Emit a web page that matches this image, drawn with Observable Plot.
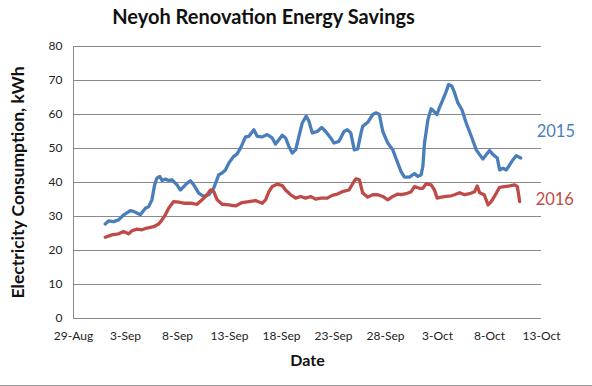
<!DOCTYPE html>
<html>
<head>
<meta charset="utf-8">
<script src="https://cdn.jsdelivr.net/npm/d3@7"></script>
<script src="https://cdn.jsdelivr.net/npm/@observablehq/plot@0.6"></script>
<style>
  html, body { margin: 0; padding: 0; background: #fff; }
  #wrap { position: relative; width: 592px; height: 386px; overflow: hidden; }
  #wrap svg { display: block; font-family: Lato, "Open Sans", sans-serif; }
  #border { position: absolute; left: 0; top: 385px; width: 592px; height: 1px; background: #9a9a9a; }
</style>
</head>
<body>
<div id="wrap"><div id="border"></div></div>
<script>
// Days after 29-Aug and daily electricity consumption (kWh)
const days2015 = [3.05,3.37,3.85,4.34,4.82,5.46,5.78,6.43,6.91,7.23,7.54,7.80,8.02,8.29,8.51,8.83,9.15,9.47,9.95,10.28,10.60,10.92,11.24,11.56,12.04,12.52,13.01,13.49,13.97,14.29,14.61,14.93,15.41,15.73,16.06,16.54,16.86,17.34,17.66,18.14,18.62,19.10,19.43,19.75,20.07,20.39,20.71,21.03,21.36,21.68,21.99,22.38,22.64,22.96,23.44,23.86,24.25,24.73,25.05,25.53,26.01,26.33,26.66,27.00,27.33,27.65,27.81,28.29,28.78,29.09,29.41,29.74,30.22,30.70,31.18,31.50,31.82,32.30,32.78,33.11,33.43,33.59,33.75,34.08,34.39,34.65,34.94,35.19,35.52,35.84,36.06,36.39,36.64,36.96,37.35,37.76,38.25,38.73,39.05,39.37,39.69,40.01,40.34,40.75,40.97,41.30,41.62,41.94,42.26,42.58,43.00];
const kwh2015 = [27.8,28.7,28.5,29.0,30.5,31.7,31.5,30.5,32.4,32.9,34.9,39.3,41.3,41.8,40.6,41.0,40.6,40.8,39.3,37.8,38.8,39.8,40.5,39.3,36.9,35.9,36.4,38.4,42.3,42.8,43.7,45.7,47.7,48.4,50.1,53.4,53.6,55.5,53.6,53.4,54.1,53.1,51.3,52.6,53.9,53.1,50.6,48.7,49.6,53.6,57.5,59.5,58.0,54.6,55.0,56.2,55.0,53.1,51.6,52.1,55.0,55.5,54.6,49.6,49.9,54.6,56.5,57.7,60.0,60.5,60.0,55.0,51.6,49.6,45.7,43.2,41.6,41.6,42.6,41.8,42.3,44.7,51.6,58.5,61.7,60.9,60.0,62.0,64.4,66.8,68.8,68.3,66.4,63.4,61.4,57.5,53.6,49.6,48.2,46.9,48.2,49.4,48.2,47.2,43.7,44.2,43.7,45.2,46.7,47.9,47.2];

const days2016 = [3.05,3.69,4.34,4.82,5.30,5.62,6.10,6.58,7.06,7.71,8.19,8.51,8.83,9.15,9.63,10.12,10.60,11.24,11.88,12.36,12.84,13.17,13.49,13.81,14.29,14.93,15.58,16.21,16.86,17.50,18.14,18.47,18.79,19.10,19.59,20.07,20.39,20.88,21.36,21.84,22.32,22.80,23.29,23.77,24.40,24.88,25.37,25.85,26.49,26.97,27.17,27.49,27.81,28.29,28.78,29.26,29.74,30.22,30.70,31.18,31.50,31.98,32.47,32.78,33.27,33.59,33.91,34.39,34.71,34.97,35.36,35.84,36.32,36.64,37.12,37.60,38.08,38.56,38.82,39.05,39.50,39.86,40.17,40.66,40.97,41.45,41.94,42.42,42.68,42.90];
const kwh2016 = [23.9,24.6,24.9,25.6,24.9,25.8,26.3,26.1,26.6,27.0,27.8,29.0,30.5,32.4,34.4,34.2,33.9,33.9,33.6,34.9,36.4,37.8,37.3,34.9,33.6,33.4,33.1,34.1,34.4,34.7,33.9,34.9,37.3,38.8,39.5,39.1,37.8,36.4,35.4,35.9,35.4,35.9,35.1,35.4,35.4,36.2,36.6,37.3,37.8,40.3,41.1,40.8,36.9,35.7,36.4,36.4,35.9,34.9,35.9,36.6,36.4,36.7,37.3,38.8,38.3,38.3,39.6,39.3,37.8,35.4,35.7,35.9,36.1,36.4,37.0,36.4,36.7,37.3,39.0,37.0,36.4,33.4,34.4,36.9,38.6,38.8,39.0,39.3,38.8,34.4];

const xTickLabels = ["29-Aug","3-Sep","8-Sep","13-Sep","18-Sep","23-Sep","28-Sep","3-Oct","8-Oct","13-Oct"];
const xTickDays = [0,5,10,15,20,25,30,35,40,45];
const yTicks = [0,10,20,30,40,50,60,70,80];
const seriesNames = ["2015","2016"];
const seriesColors = ["#4a7ebb","#be4b48"];
const title = "Neyoh Renovation Energy Savings";
const xLabel = "Date";
const yLabel = "Electricity Consumption, kWh";

const t0 = Date.UTC(2015, 7, 29);
const toDate = d => new Date(t0 + d * 864e5);
const xTicks = xTickDays.map(toDate);
const labelOf = new Map(xTicks.map((t, i) => [+t, xTickLabels[i]]));

const rows = [
  ...days2015.map((d, i) => ({series: seriesNames[0], date: toDate(d), kwh: kwh2015[i]})),
  ...days2016.map((d, i) => ({series: seriesNames[1], date: toDate(d), kwh: kwh2016[i]}))
];
const lastPoints = seriesNames.map(s => rows.filter(r => r.series === s).at(-1));

const chart = Plot.plot({
  width: 592,
  height: 386,
  marginLeft: 73,
  marginRight: 51,
  marginTop: 46,
  marginBottom: 68,
  style: {fontFamily: "Lato, 'Open Sans', sans-serif", fontSize: "12px", color: "#222", background: "#fff"},
  x: {type: "utc", domain: [xTicks[0], xTicks[xTicks.length - 1]]},
  y: {domain: [0, 80]},
  color: {domain: seriesNames, range: seriesColors},
  marks: [
    Plot.gridY(yTicks, {stroke: "#8a8a8a", strokeOpacity: 1}),
    Plot.ruleX([xTicks[0]], {stroke: "#8a8a8a"}),
    Plot.axisY({ticks: yTicks, tickSize: 0, tickPadding: 11, label: null, fontSize: 12}),
    Plot.axisX({ticks: xTicks, tickSize: 0, tickPadding: 13, label: null, tickFormat: t => labelOf.get(+t), fontSize: 12}),
    Plot.line(rows, {x: "date", y: "kwh", z: "series", stroke: "series", strokeWidth: 3.3, curve: "linear", strokeLinejoin: "round"}),
    Plot.text(lastPoints.filter(d => d.series === seriesNames[0]), {x: "date", y: "kwh", text: "series", fill: "series", textAnchor: "start", lineAnchor: "bottom", dx: 16, dy: -21, fontSize: 16.5}),
    Plot.text(lastPoints.filter(d => d.series === seriesNames[1]), {x: "date", y: "kwh", text: "series", fill: "series", textAnchor: "start", lineAnchor: "bottom", dx: 16, dy: 3, fontSize: 16.5}),
    Plot.text([title], {frameAnchor: "top", dx: -44, dy: -23, lineAnchor: "bottom", fontSize: 20, fontWeight: "bold", fill: "#111"}),
    Plot.text([xLabel], {frameAnchor: "bottom", dy: 47, lineAnchor: "bottom", fontSize: 16, fontWeight: "bold", fill: "#111"}),
    Plot.text([yLabel], {frameAnchor: "left", dx: -55, rotate: -90, textAnchor: "middle", lineAnchor: "middle", fontSize: 17.5, fontWeight: "bold", fill: "#111"})
  ]
});
document.getElementById("wrap").prepend(chart);
</script>
</body>
</html>
